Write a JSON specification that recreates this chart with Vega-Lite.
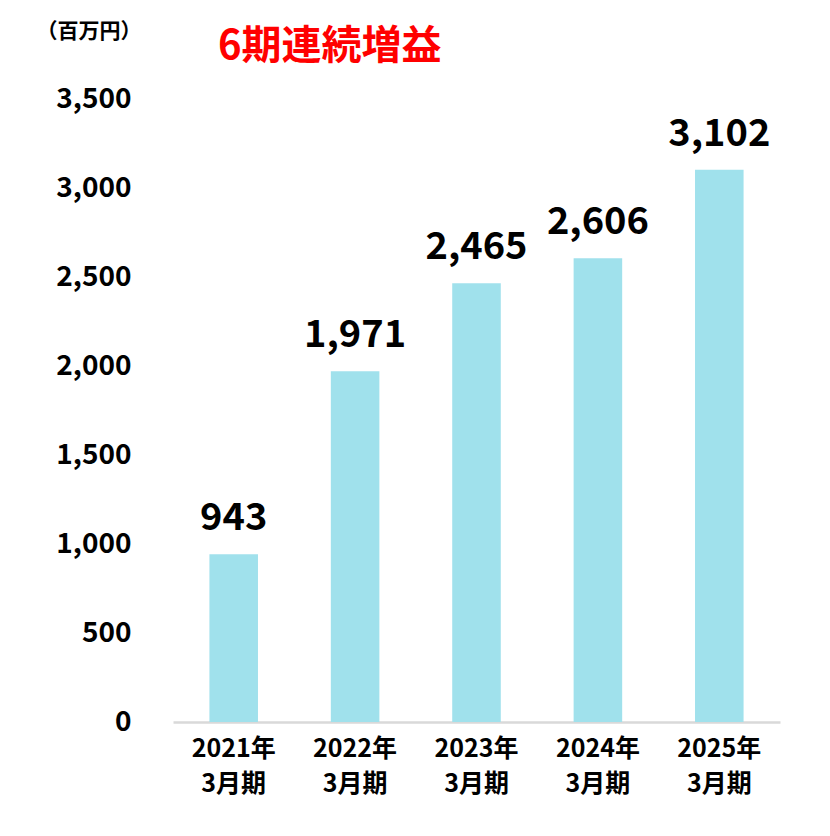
{
  "$schema": "https://vega.github.io/schema/vega-lite/v6.json",
  "autosize": {"type": "none"},
  "width": 607,
  "height": 623,
  "padding": {"left": 173, "top": 99, "right": 50, "bottom": 114},
  "background": "white",
  "config": {
    "view": {"stroke": null},
    "font": "Noto Sans CJK JP"
  },
  "title": {
    "text": "6期連続増益",
    "anchor": "start",
    "frame": "group",
    "dx": 45,
    "dy": 51,
    "fontSize": 40,
    "fontWeight": "bold",
    "color": "#FF0000",
    "font": "Noto Sans CJK JP"
  },
  "data": {
    "values": [
      {"period": "2021年\n3月期", "profit": 943},
      {"period": "2022年\n3月期", "profit": 1971},
      {"period": "2023年\n3月期", "profit": 2465},
      {"period": "2024年\n3月期", "profit": 2606},
      {"period": "2025年\n3月期", "profit": 3102}
    ]
  },
  "encoding": {
    "x": {
      "field": "period",
      "type": "nominal",
      "sort": null,
      "scale": {"paddingInner": 0.6, "paddingOuter": 0.3},
      "axis": {
        "title": null,
        "labelAngle": 0,
        "labelFont": "Noto Sans CJK JP",
        "labelFontSize": 25,
        "labelFontWeight": "bold",
        "labelColor": "#000000",
        "labelPadding": 14,
        "labelLineHeight": 35,
        "labelExpr": "split(datum.value, '\\n')",
        "ticks": false,
        "domain": true,
        "domainColor": "#D9D9D9",
        "domainWidth": 2.5,
        "grid": false
      }
    },
    "y": {
      "field": "profit",
      "type": "quantitative",
      "scale": {"domain": [0, 3500], "nice": false},
      "axis": {
        "title": "（百万円）",
        "titleAngle": 0,
        "titleX": -137,
        "titleY": -68,
        "titleAlign": "left",
        "titleBaseline": "middle",
        "titleFont": "Noto Sans CJK JP",
        "titleFontSize": 21,
        "titleFontWeight": "bold",
        "titleColor": "#000000",
        "values": [0, 500, 1000, 1500, 2000, 2500, 3000, 3500],
        "format": ",.0f",
        "labelFont": "Noto Sans CJK JP",
        "labelFontSize": 28,
        "labelFontWeight": "bold",
        "labelColor": "#000000",
        "labelPadding": 42,
        "ticks": false,
        "domain": false,
        "grid": false
      }
    }
  },
  "layer": [
    {
      "mark": {"type": "bar", "color": "#A0E1EC"}
    },
    {
      "mark": {
        "type": "text",
        "baseline": "alphabetic",
        "dy": -24,
        "fontSize": 38,
        "fontWeight": "bold",
        "font": "Noto Sans CJK JP",
        "color": "#000000"
      },
      "encoding": {
        "text": {"field": "profit", "type": "quantitative", "format": ",.0f"}
      }
    }
  ]
}
